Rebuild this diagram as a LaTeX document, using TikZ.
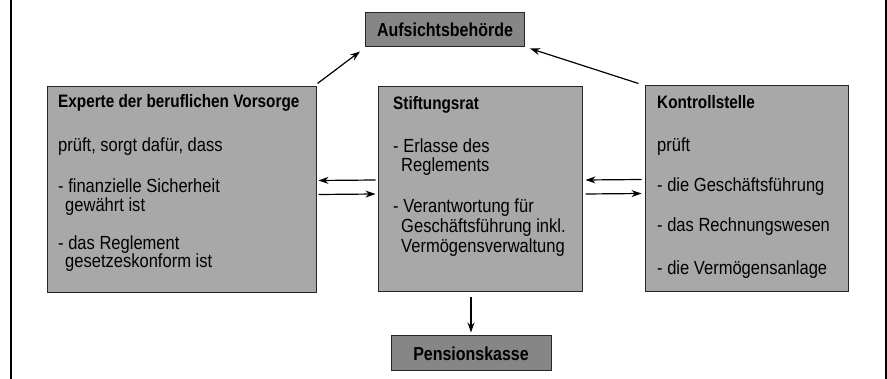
\documentclass[tikz,border=0pt]{standalone}
\usepackage{fontspec}
\setmainfont{Liberation Sans}[FakeStretch=0.85]
\newfontfamily\bodyfont{Liberation Sans}[FakeStretch=0.87]
\usetikzlibrary{arrows.meta,calc}
\definecolor{boxgray}{HTML}{A8A8A8}
\definecolor{headgray}{HTML}{868686}
\begin{document}
\begin{tikzpicture}[x=1pt,y=1pt,
  bigbox/.style={draw=black!85,line width=1pt,fill=boxgray,inner sep=0,minimum width=#1},
  headbox/.style={draw=black!85,line width=1pt,fill=headgray,inner sep=0,font=\fontsize{18.8}{20}\selectfont\bfseries},
  ttl/.style={inner sep=0,anchor=base west,font=\fontsize{18}{19}\selectfont\bfseries},
  bdy/.style={inner sep=0,anchor=base west,font=\bodyfont\fontsize{19}{19}\selectfont},
  arr/.style={line width=1.2pt,-{Stealth[length=10pt,width=7pt]}},
  frame/.style={line width=1.5pt}]
\useasboundingbox (0,0) rectangle (887,-379);
% side rules
\draw[frame] (11,0) -- (11,-379);
\draw[frame] (886,0) -- (886,-379);
% boxes
\node[headbox,minimum width=159pt,minimum height=34pt] (auf) at (445,-30) {Aufsichtsbehörde};
\node[bigbox=269pt,minimum height=206pt] (exp) at (181.5,-190) {};
\node[bigbox=204pt,minimum height=205pt] (sti) at (480,-189.5) {};
\node[bigbox=203pt,minimum height=206pt] (kon) at (746.5,-189) {};
\node[headbox,minimum width=160pt,minimum height=35pt] (pen) at (471,-353.5) {Pensionskasse};
% Experte text
\node[ttl] (e0) at (58,-108) {Experte der beruflichen Vorsorge};
\node[bdy] (e1) at (58,-152) {prüft, sorgt dafür, dass};
\node[bdy] (e2) at (58,-193) {- finanzielle Sicherheit};
\node[bdy] (e3) at (65,-212) {gewährt ist};
\node[bdy] (e4) at (58,-250) {- das Reglement};
\node[bdy] (e5) at (65,-268) {gesetzeskonform ist};
% Stiftungsrat text
\node[ttl] (s0) at (393,-110) {Stiftungsrat};
\node[bdy] (s1) at (393,-153) {- Erlasse des};
\node[bdy] (s2) at (401,-172) {Reglements};
\node[bdy] (s3) at (393,-213) {- Verantwortung für};
\node[bdy] (s4) at (401,-233) {Geschäftsführung inkl.};
\node[bdy] (s5) at (401,-253) {Vermögensverwaltung};
% Kontrollstelle text
\node[ttl] (k0) at (657,-109) {Kontrollstelle};
\node[bdy] (k1) at (657,-152) {prüft};
\node[bdy] (k2) at (657,-192) {- die Geschäftsführung};
\node[bdy] (k3) at (657,-232) {- das Rechnungswesen};
\node[bdy] (k4) at (657,-275) {- die Vermögensanlage};
% connectors
\draw[arr] ($(exp.north east)+(1,3)$) -- ($(auf.south west)+(-5,-4)$);
\draw[arr] ($(kon.north west)+(-6,2)$) -- ($(auf.south east)+(5,-1)$);
\draw[arr] ($(sti.west)+(-2,9.5)$) -- ($(exp.east)+(2,9.5)$);
\draw[arr] ($(exp.east)+(2,-4.5)$) -- ($(sti.west)+(-2,-4.5)$);
\draw[arr] ($(kon.west)+(-3,9.5)$) -- ($(sti.east)+(3,9.5)$);
\draw[arr] ($(sti.east)+(3,-4.5)$) -- ($(kon.west)+(-3,-4.5)$);
\draw[arr] ($(sti.south -| pen.north)+(0,-5)$) -- ($(pen.north)+(0,3)$);
\end{tikzpicture}
\end{document}
